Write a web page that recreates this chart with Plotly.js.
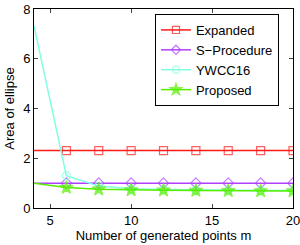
<!DOCTYPE html>
<html><head><meta charset="utf-8">
<script src="https://cdn.plot.ly/plotly-3.0.1.min.js"></script>
<style>body{margin:0;padding:0;}#chart{width:300px;height:245px;}</style>
</head><body><div id="chart"></div>
<script>
const xs = [4, 6, 8, 10, 12, 14, 16, 18, 20];
const expanded = [2.31, 2.31, 2.31, 2.31, 2.31, 2.31, 2.31, 2.31, 2.31];
const sProcedure = [1.0, 1.0, 1.0, 1.0, 1.0, 1.0, 1.0, 1.0, 1.0];
const ywcc16 = [7.32, 1.3, 0.88, 0.77, 0.74, 0.72, 0.71, 0.70, 0.70];
const proposed = [1.0, 0.82, 0.75, 0.72, 0.71, 0.70, 0.69, 0.68, 0.68];
const names = ["Expanded", "S\u2212Procedure", "YWCC16", "Proposed"];
const colors = ["#ff1a1a", "#b040ff", "#80ffe0", "#55ee00"];
const symbols = ["square-open", "diamond-open", "circle-open", "star"];
const sizes = [8, 8, 8, 10];
const series = [expanded, sProcedure, ywcc16, proposed];
const traces = series.map((ys, i) => ({
  x: xs, y: ys, name: names[i], mode: "lines+markers", type: "scatter",
  line: {color: colors[i], width: 1.5},
  marker: {symbol: symbols[i], color: colors[i], size: xs.map((v, j) => j === 0 ? 0 : sizes[i]), line: {color: colors[i], width: 1.2}}
}));
const font = {family: "Liberation Sans, Arial, sans-serif", size: 13, color: "#000"};
const layout = {
  width: 300, height: 245,
  margin: {l: 34, r: 7, t: 9, b: 37},
  paper_bgcolor: "#fff", plot_bgcolor: "#fff",
  font: font,
  showlegend: true,
  legend: {x: 0.467, y: 0.975, xanchor: "left", yanchor: "top", bordercolor: "#000", borderwidth: 1, bgcolor: "#fff", font: font, tracegroupgap: 0, itemwidth: 30},
  xaxis: {range: [4, 20], tickvals: [5, 10, 15, 20], ticks: "inside", ticklen: 4, showline: true, mirror: "ticks", linecolor: "#000", linewidth: 1, showgrid: false, zeroline: false, ticklabeloverflow: "allow",
    title: {text: "Number of generated points m", font: font, standoff: 3}},
  yaxis: {range: [0, 8], tickvals: [0, 2, 4, 6, 8], ticks: "inside", ticklen: 4, showline: true, mirror: "ticks", linecolor: "#000", linewidth: 1, showgrid: false, zeroline: false, ticklabeloverflow: "allow",
    title: {text: "Area of ellipse", font: font, standoff: 5}}
};
Plotly.newPlot("chart", traces, layout, {displayModeBar: false, staticPlot: true});
</script></body></html>
